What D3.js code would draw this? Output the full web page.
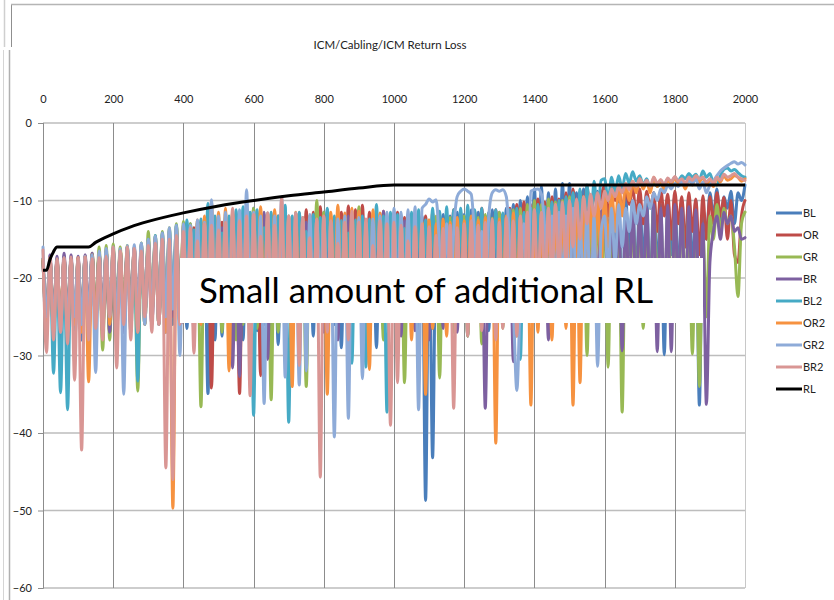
<!DOCTYPE html>
<html lang="en">
<head>
<meta charset="utf-8">
<title>ICM/Cabling/ICM Return Loss</title>
<script src="https://cdn.jsdelivr.net/npm/d3@7"></script>
<style>
  body { margin: 0; background: #fff; }
  svg { display: block; font-family: Lato, "Liberation Sans", sans-serif; }
</style>
</head>
<body>
<div id="chart"></div>
<script>
// frequency grid: one sample every 10 units, 0..2000
const freqStep = 10;
const xTicks = [0, 200, 400, 600, 800, 1000, 1200, 1400, 1600, 1800, 2000];
const yTicks = [0, -10, -20, -30, -40, -50, -60];

const seriesNames = ["BL", "OR", "GR", "BR", "BL2", "OR2", "GR2", "BR2"];
const seriesColors = ["#4a7ebb", "#be4b48", "#98b954", "#7d60a0", "#46aac5", "#f69240", "#8eabd8", "#d99694"];

const BL = [
  -17.5,-26,-18,-27,-17.8,-28,-17.6,-27,-17.8,-29,
  -18,-28,-17.8,-27,-17.5,-26,-17,-27,-16.8,-26,
  -16.5,-25,-16.8,-27,-16.5,-26,-16,-27,-16.2,-25,
  -15.5,-26,-15,-25,-14.8,-27,-14.5,-26,-14,-25,
  -13.5,-26.5,-13,-27,-15,-26,-12.8,-34.9,-13,-28,
  -12.5,-27.5,-14,-25,-12.6,-26.5,-12,-28,-12.4,-23,
  -11,-26.8,-11.8,-26,-12.2,-27.2,-12,-28.6,-12.5,-24,
  -12.3,-27,-15.2,-23,-12.5,-26.5,-13,-27.5,-12.6,-25,
  -11.5,-26.5,-12.8,-26,-13.5,-29,-13,-25,-12.5,-24,
  -12.8,-27,-13.2,-24,-12.6,-29,-13,-26.8,-12.4,-23,
  -12,-27,-12.5,-24,-11.8,-26,-12.2,-27,-12,-48.7,
  -13,-43.2,-12.5,-27,-11.8,-22,-12,-26.5,-11.5,-23,
  -11.8,-27.5,-11.2,-25,-11.5,-22,-12,-26.8,-11.2,-26,
  -11.5,-23,-11,-24,-10.5,-22,-10,-25,-9.5,-21,
  -8.5,-20,-8.2,-22,-9,-21,-8.5,-19,-7.8,-20,
  -7.8,-18,-9,-20,-8.5,-17,-9.5,-19,-8.8,-16,
  -8.2,-15,-9,-18,-8.5,-26,-9.5,-17,-10,-20,
  -9.5,-18,-10,-22,-9,-19,-10.5,-29.9,-9.8,-17,
  -9.2,-20,-10,-16,-9.5,-19,-10,-36.4,-11,-15,
  -9,-12,-8.5,-14,-9.5,-11,-8.8,-13,-9,-10,
  -8
];
const OR = [
  -17.8,-25,-17.5,-26,-17.6,-27,-17.2,-26,-17.5,-27,
  -17.6,-26,-17.3,-25,-17,-26,-16.8,-25,-16.5,-27,
  -16.8,-26,-16.4,-25,-16.6,-24,-16.2,-26,-15.8,-25,
  -15.6,-24,-15.2,-26,-15,-25,-14.6,-24,-14.2,-26,
  -25,-13.8,-24,-13.5,-23,-14.5,-25,-13,-34.2,-13.2,
  -24,-12.8,-23,-15,-25,-12.6,-34.9,-13,-24,-12.5,
  -25,-12,-32.6,-12.2,-24,-12.5,-23,-12,-25,-11.8,
  -24,-13.8,-25,-11.6,-23,-11.2,-24,-11.5,-22,-10.8,
  -23,-11.8,-24,-14,-22,-11.5,-23,-10.7,-24,-11.2,
  -22,-10.6,-23,-11.5,-21,-13.5,-23,-11.4,-22,-12,
  -23,-11.5,-22,-12.2,-24,-11.8,-21,-12.5,-23,-12,
  -22,-11.5,-24,-12.2,-21,-11.8,-23,-11.2,-22,-11.5,
  -21,-12,-23,-11.4,-22,-11,-20,-11.6,-22,-11.2,
  -20,-11.8,-22,-11,-19,-10.5,-21,-10.2,-19,-10.5,
  -18,-9.8,-20,-10.2,-17,-9.5,-19,-9.8,-16,-9,
  -15,-8.5,-14,-8.8,-12,-8.2,-13,-8.6,-11,-9.5,
  -8,-12,-8.4,-10,-8.2,-11.5,-8.6,-10.5,-8.3,-12,
  -8.5,-13,-8.8,-11,-9,-14,-8.6,-12,-9.2,-15,
  -8.8,-13,-9.5,-16,-9,-14,-9.8,-17,-9.4,-15,
  -9.5,-13,-9,-12,-9.6,-15,-10,-17,-18,-12,
  -10
];
const GR = [
  -17.6,-24,-17.8,-25,-17.5,-26,-17.3,-25,-17.6,-26,
  -17.5,-25,-17.2,-26,-16.8,-25,-16,-29.3,-15.8,-28,
  -15.6,-25,-16,-26,-15.8,-25,-16.2,-34.6,-15.5,-26,
  -14,-25,-14.5,-26,-14,-24,-13.5,-25,-13,-26,
  -12.7,-24,-13,-25,-12.8,-36.6,-13.2,-25,-12.5,-24,
  -13.6,-27,-12,-25,-11.5,-28,-14.5,-26,-11.8,-23,
  -11,-26.5,-11.5,-25,-12,-35.7,-11.8,-27,-12,-25,
  -12.2,-23,-11.8,-25,-12.4,-34,-12,-24,-10,-23,
  -11.5,-27.5,-12,-25,-15,-23,-12.2,-26.8,-12.8,-25,
  -10.8,-23,-13,-27,-12.6,-25,-14.8,-28,-12.8,-23,
  -12.5,-24,-12,-33.5,-12.6,-23,-12.2,-25,-12.8,-24,
  -12.5,-26.5,-12,-32.9,-12.8,-25,-12.2,-27,-12.6,-24,
  -12,-27.5,-12.5,-25,-12.2,-28.5,-11.8,-25,-12.3,-23,
  -11.5,-26.5,-12,-25,-11.2,-27.5,-11,-24,-10.5,-23,
  -10,-22,-10.5,-24,-9.8,-21,-10.2,-23,-10,-22,
  -9.5,-21,-10,-23,-10.5,-30,-10,-24,-11,-22,
  -10.5,-31.5,-11,-25,-10.5,-37.3,-11.5,-24,-12,-23,
  -11.5,-26.5,-12,-24,-11,-22,-12.5,-25,-11.8,-23,
  -12,-24,-11.5,-22,-12,-29.8,-13,-34,-14,-25,
  -12,-15,-10.5,-14,-11,-13,-12,-16,-22.4,-13,
  -11.5
];
const BR = [
  -17.8,-25,-17,-26,-17.2,-27,-16.8,-26,-17,-27,
  -17.2,-26,-17,-25,-16.8,-26,-17,-25,-16.6,-27,
  -16.5,-26,-16.8,-27,-16,-25,-16.5,-26,-16.2,-25,
  -15.8,-26,-15.5,-25,-15,-26,-14.8,-25,-14.5,-24,
  -25,-15.5,-24,-13.8,-25,-13.5,-24,-12.2,-25,-13.2,
  -24,-13.5,-25,-13,-31.6,-14.8,-32.7,-13,-24,-12.8,
  -25,-13,-24,-11.5,-30.5,-13,-25,-12.8,-24,-13,
  -23,-12.6,-25,-14.5,-24,-12.8,-23,-13,-25,-12.5,
  -27,-11.2,-23,-12.2,-28,-12.6,-24,-12,-26.5,-14,
  -25,-12,-24,-12.6,-23,-12.2,-25,-11.4,-24,-12.5,
  -23,-13,-27.5,-12.6,-24,-14.6,-26.8,-12.8,-25,-13,
  -28,-13.5,-25,-11.8,-26.5,-13.6,-24,-13.2,-27,-13.5,
  -24,-13,-25,-13.4,-24,-13,-36.8,-13.6,-25,-13,
  -24,-13.5,-25,-13,-30.8,-12.5,-24,-12.8,-23,-12.5,
  -24,-12,-25,-12.4,-28,-12,-24,-11.5,-23,-11.8,
  -24,-11.5,-22,-12,-24,-11.2,-23,-11.8,-22,-11.5,
  -11,-23,-11.5,-21,-10.8,-29.4,-11.2,-22,-10.5,-24,
  -10.8,-22,-11,-24,-10.5,-29.5,-11,-23,-10.6,-29.5,
  -10.5,-22,-11,-24,-10.8,-23,-11.2,-25,-13,-36.3,
  -18,-14,-12,-15,-11.5,-13,-12,-14,-13.5,-15,
  -14.8
];
const BL2 = [
  -17.5,-27,-17.8,-32.3,-17.5,-34.8,-17.8,-37,-17.6,-28,
  -17.8,-27,-17.5,-28,-17.2,-26,-16.8,-27,-16.5,-26,
  -16.2,-27,-16.5,-26,-16,-27,-16.2,-33.3,-15.5,-26,
  -15,-25,-14.5,-26,-14.2,-25,-13.8,-24,-13.2,-25,
  -24,-12.5,-25,-13.8,-23,-12.4,-24,-10.4,-23,-12,
  -24,-14.2,-23,-12,-25,-11.2,-24,-10.8,-23,-11.5,
  -37.7,-11.2,-24,-13.5,-23,-11.5,-25,-12,-24,-10.6,
  -38.6,-12,-24,-11.5,-23,-14,-25,-11.8,-24,-12.2,
  -23,-11,-25,-12,-24,-12.6,-23,-14.2,-31,-12.5,
  -24,-12,-31.5,-12.4,-25,-10.5,-24,-12,-37.3,-11.5,
  -24,-11.8,-23,-13.6,-25,-11.5,-24,-11.2,-23,-12.5,
  -24,-11,-23,-11.4,-25,-10.8,-24,-11.2,-23,-11,
  -24,-10.6,-23,-11.2,-25,-11,-24,-11.5,-23,-11.2,
  -24,-11.6,-25,-11.2,-23,-11,-30.5,-11.5,-24,-11,
  -23,-10.5,-24,-10.8,-22,-10.2,-23,-10,-21,-9.5,
  -20,-9,-18,-8.5,-16,-8,-14,-7.5,-12,-7.4,
  -7.2,-10,-7,-9,-6.8,-8.5,-6.5,-7.8,-6.3,-7.5,
  -6.8,-8,-7.2,-8.5,-7.5,-8.2,-7.8,-8,-7.2,-7.6,
  -7,-7.5,-6.8,-7.2,-6.5,-7,-6.6,-7.4,-6.2,-7,
  -6.5,-7.8,-8,-6.8,-6,-5.8,-6.2,-6,-6.4,-6.8,
  -7
];
const OR2 = [
  -17.6,-26,-17.4,-27,-17.8,-26,-17.5,-27,-17.6,-26,
  -17.4,-27,-17.2,-33.4,-17,-26,-16.8,-27,-16.5,-26,
  -16.2,-27,-16.4,-26,-16.8,-25,-16,-27,-15.8,-26,
  -15.2,-25,-14.8,-26,-14.5,-27,-14,-49.7,-13.5,-26,
  -13.2,-25,-14.6,-24,-12.5,-26,-12,-25,-10.2,-24,
  -11.5,-25,-11,-32,-11.6,-24,-13.8,-25,-11.8,-23,
  -11.5,-24,-10.8,-25,-11.6,-23,-11.2,-24,-11.8,-25,
  -12,-34,-11.5,-24,-12.2,-23,-14.4,-25,-12.4,-24,
  -12,-35,-11.5,-24,-10.6,-23,-11.6,-25,-11,-24,
  -11.4,-23,-14,-31.8,-11.2,-24,-11.6,-23,-12,-25,
  -12.2,-27,-12.6,-23,-12,-28,-12.4,-24,-12.8,-35,
  -12.5,-26.5,-13,-24,-12.4,-27.5,-12.8,-23,-12.2,-24,
  -12.6,-23,-12,-24,-12.5,-25,-12.2,-24,-12.8,-41.3,
  -12.4,-24,-12,-25,-11.6,-23,-12,-24,-11.5,-36.4,
  -11.2,-27,-11.6,-23,-11,-28,-10.5,-24,-10.8,-26.5,
  -10.2,-36.4,-10,-33.5,-9.5,-22,-9.8,-20,-9.2,-18,
  -8.8,-16,-8.5,-14,-8,-12,-7.8,-10,-7.5,-9,
  -7.2,-8.5,-7.5,-9,-7,-8.2,-7.4,-8.8,-7.2,-8,
  -7,-7.8,-7.5,-8.5,-7.2,-8,-6.8,-7.6,-7,-8,
  -7.4,-8.2,-7,-7.6,-6.8,-7.4,-7.2,-6.8,-7,-7.5,
  -7.2
];
const GR2 = [
  -16,-25,-17.5,-26,-17.8,-27,-17.4,-26,-17.6,-25,
  -17.5,-26,-17.2,-25,-17,-32.2,-16.5,-26,-16.2,-25,
  -16,-26,-16.2,-35,-15.8,-26,-15.7,-25,-15.5,-26,
  -15,-25,-14.6,-26,-14.2,-25,-13.5,-24,-13.2,-30,
  -13,-24,-13.2,-25,-12.5,-24,-12.8,-25,-9.9,-24,
  -12,-25,-11.5,-24,-12,-23,-11.2,-25,-8.6,-24,
  -11.5,-25,-12,-36.2,-11.6,-24,-12,-25,-9.5,-32.8,
  -12,-24,-11.6,-33.8,-12.2,-32,-11.8,-24,-12.5,-23,
  -12.2,-25,-12.8,-40.5,-12.4,-24,-12,-38.1,-12.6,-25,
  -12.2,-33,-12.8,-24,-12.4,-25,-12,-23,-11.5,-24,
  -11,-23,-11.5,-24,-11.2,-25,-10.8,-37,-11,-10.5,
  -9.8,-10.2,-9.9,-16,-22,-13,-24,-14,-9.5,-8.8,
  -8.5,-8.8,-9.2,-15,-24,-14,-23,-12,-9,-8.6,
  -8.8,-8.6,-9.5,-16,-24,-34.5,-22,-13,-24,-8.8,
  -8.6,-8.5,-9.2,-14,-23,-12,-22,-11.5,-21,-12,
  -23,-11,-24,-13,-22,-11.5,-25,-12,-31.4,-14,
  -12,-20,-11,-18,-10.5,-16,-11,-14,-10,-13,
  -10.5,-12,-9.5,-11,-9,-10,-8.5,-9,-8,-8.5,
  -7.8,-8.2,-7.5,-8,-7.4,-7.8,-7.2,-8.5,-7.6,-9,
  -8,-7.5,-6.8,-6.2,-5.8,-5.5,-5.2,-5,-5.3,-5.1,
  -5.4
];
const BR2 = [
  -16.4,-29.6,-17.4,-28,-17.5,-27,-17.4,-28.5,-17.3,-33.2,
  -17.4,-42.2,-17.3,-28,-17.5,-26.5,-17.4,-28,-17.2,-25,
  -16,-31.6,-16.5,-26,-16,-28,-16.2,-27,-16.5,-25,
  -15.8,-27,-15.5,-26,-15,-44.5,-15,-46,-14.5,-26,
  -14,-25,-13.5,-29.7,-15.2,-25,-13,-24,-13.2,-25,
  -13.8,-24,-12.8,-25,-11,-23,-12.6,-24,-12,-35.2,
  -11.8,-24,-14.6,-25,-11.6,-23,-13.2,-24,-9.6,-25,
  -12,-24,-11.6,-31.3,-12.2,-23,-14.8,-25,-12.4,-45.7,
  -12,-27,-12.6,-23,-15.5,-25,-12.8,-28,-11.4,-23,
  -12.8,-25,-12.4,-24,-15.8,-23,-12.6,-25,-13,-39,
  -12.8,-33.5,-13.2,-24,-15.2,-23,-13.4,-25,-13,-24,
  -13.4,-23,-14.5,-25,-13.6,-24,-13.2,-36.8,-13.5,-23,
  -13,-27.5,-12.6,-23,-13.2,-26.8,-12.8,-24,-12.4,-28,
  -12.8,-26.5,-12.2,-23,-12.6,-27.5,-12,-24,-11.5,-23,
  -11.2,-22,-11.5,-21,-11,-20,-10.5,-19,-10.2,-18,
  -10,-16,-9.8,-15,-9.5,-13,-9.2,-12,-9,-11,
  -8.8,-10,-8.5,-9.5,-8.2,-9,-7.8,-8.6,-7.5,-8.2,
  -7.2,-8,-7.4,-8.2,-7,-7.8,-7.3,-8,-7.1,-7.6,
  -6.9,-7.5,-7.2,-7.8,-7,-7.4,-6.8,-7.2,-7,-7.6,
  -7.2,-7.8,-7,-7.4,-6.6,-7,-6.8,-6.5,-7,-7.2,
  -7.4
];
// return loss limit (frequency, dB)
const rlFreq = [0, 10, 20, 30, 40, 130, 150, 200, 250, 300, 400, 500, 600, 700, 800, 900, 1000, 2000];
const rlVal = [-19, -19, -17.6, -16.6, -16, -16, -15.4, -14.3, -13.4, -12.7, -11.6, -10.7, -10, -9.4, -8.9, -8.4, -8, -8];

const seriesData = [BL, OR, GR, BR, BL2, OR2, GR2, BR2];

const width = 834, height = 600;
const svg = d3.select("#chart").append("svg")
  .attr("width", width)
  .attr("height", height);

// outer frame remnants
const frame = svg.append("g").attr("fill", "none");
frame.append("line").attr("x1", 4.5).attr("y1", 0).attr("x2", 4.5).attr("y2", 47).attr("stroke", "#cfcfcf").attr("stroke-width", 1.5);
frame.append("line").attr("x1", 11.5).attr("y1", 4).attr("x2", 11.5).attr("y2", 47).attr("stroke", "#8f8f8f");
frame.append("line").attr("x1", 11).attr("y1", 4.5).attr("x2", 834).attr("y2", 4.5).attr("stroke", "#b5b5b5").attr("stroke-width", 1.5);
frame.append("line").attr("x1", 3.5).attr("y1", 50).attr("x2", 3.5).attr("y2", 600).attr("stroke", "#d5d5d5");
frame.append("line").attr("x1", 9.5).attr("y1", 50).attr("x2", 9.5).attr("y2", 600).attr("stroke", "#b0b0b0").attr("stroke-width", 1.5);

const x = d3.scaleLinear().domain([0, 2000]).range([43, 745]);
const y = d3.scaleLinear().domain([0, -60]).range([123, 588]);

// gridlines
svg.append("g").selectAll("line").data(yTicks).join("line")
  .attr("x1", x(0)).attr("x2", x(2000))
  .attr("y1", d => y(d)).attr("y2", d => y(d))
  .attr("stroke", "#bdbdbd").attr("stroke-width", 1.5);
svg.append("g").selectAll("line").data(xTicks).join("line")
  .attr("x1", d => Math.round(x(d)) + 0.5).attr("x2", d => Math.round(x(d)) + 0.5)
  .attr("y1", y(0)).attr("y2", y(-60))
  .attr("stroke", d => d === 2000 ? "#c8c8c8" : "#8c8c8c");

// axes
const topAxis = d3.axisTop(x).tickValues(xTicks).tickSize(0).tickPadding(12).tickFormat(d3.format("d"));
svg.append("g").attr("transform", "translate(0,115)").call(topAxis)
  .call(g => g.select(".domain").remove())
  .call(g => g.selectAll("text").attr("font-size", 11).attr("font-family", "Lato, sans-serif").attr("fill", "#222"));

const leftAxis = d3.axisLeft(y).tickValues(yTicks).tickSize(5).tickPadding(6).tickFormat(d3.format("d"));
svg.append("g").attr("transform", "translate(" + (x(0)) + ",0)").call(leftAxis)
  .call(g => g.select(".domain").attr("stroke", "#8c8c8c"))
  .call(g => g.selectAll(".tick line").attr("stroke", "#8c8c8c"))
  .call(g => g.selectAll("text").attr("font-size", 11).attr("font-family", "Lato, sans-serif").attr("fill", "#222"));

// title
svg.append("text").attr("x", 390).attr("y", 49).attr("text-anchor", "middle")
  .attr("font-size", 11.5).attr("fill", "#222").text("ICM/Cabling/ICM Return Loss");

// series
const line = d3.line()
  .x((d, i) => x(i * freqStep))
  .y(d => y(d))
  .curve(d3.curveMonotoneX);

svg.append("g").selectAll("path").data(seriesData).join("path")
  .attr("d", d => line(d))
  .attr("fill", "none")
  .attr("stroke", (d, i) => seriesColors[i])
  .attr("stroke-width", 3)
  .attr("stroke-linejoin", "round")
  .attr("stroke-linecap", "round");

const rlLine = d3.line()
  .x((d, i) => x(rlFreq[i]))
  .y(d => y(d))
  .curve(d3.curveMonotoneX);
svg.append("path").attr("d", rlLine(rlVal))
  .attr("fill", "none").attr("stroke", "#000").attr("stroke-width", 3);

// legend
const legendNames = seriesNames.concat(["RL"]);
const legendColors = seriesColors.concat(["#000"]);
const legend = svg.append("g").selectAll("g").data(legendNames).join("g")
  .attr("transform", (d, i) => "translate(776," + (213 + i * 22) + ")");
legend.append("line").attr("x1", 0).attr("x2", 26)
  .attr("stroke", (d, i) => legendColors[i]).attr("stroke-width", 3);
legend.append("text").attr("x", 27).attr("dy", "0.35em")
  .attr("font-size", 11).attr("fill", "#222").text(d => d);

// annotation box
svg.append("rect").attr("x", 180).attr("y", 258).attr("width", 523).attr("height", 65).attr("fill", "#fff");
svg.append("text").attr("x", 199).attr("y", 303)
  .attr("font-size", 34).attr("fill", "#000")
  .attr("textLength", 454).attr("lengthAdjust", "spacingAndGlyphs")
  .text("Small amount of additional RL");
</script>
</body>
</html>
